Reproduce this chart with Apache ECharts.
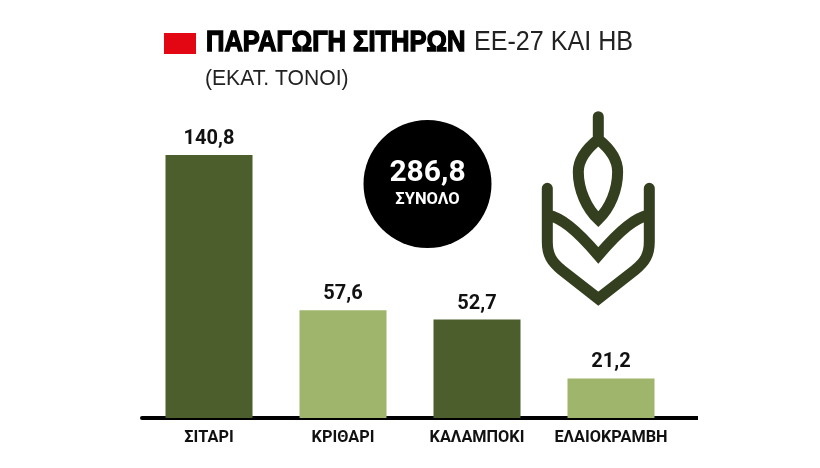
<!DOCTYPE html>
<html>
<head>
<meta charset="utf-8">
<script src="https://cdn.jsdelivr.net/npm/echarts@6/dist/echarts.min.js"></script>
<style>
html,body{margin:0;padding:0;background:#fff}
#main{width:820px;height:468px}
</style>
</head>
<body>
<div id="main"></div>
<script>
var categories = ['ΣΙΤΑΡΙ', 'ΚΡΙΘΑΡΙ', 'ΚΑΛΑΜΠΟΚΙ', 'ΕΛΑΙΟΚΡΑΜΒΗ'];
var values = [140.8, 57.6, 52.7, 21.2];
var totalLabel = '286,8';

var darkGreen = '#4b5e2c', lightGreen = '#9fb56b', iconGreen = '#333f1e';
var sans = '"Liberation Sans", sans-serif';

// wheat icon, drawn as one stroked outline
var wheatPath = 'M235 50 L235 118 ' +
	'M235 118 C195 150 175 180 175 215 C175 270 200 325 235 358 C270 325 293 270 293 215 C293 180 275 150 235 118 Z ' +
	'M82 265 L82 425 C82 465 95 485 125 510 L235 596 L345 510 C375 485 388 465 388 425 L388 265 ' +
	'M82 344 C125 355 165 385 235 466 C305 385 345 355 388 344';

var myChart = echarts.init(document.getElementById('main'));
myChart.setOption({
	backgroundColor: '#fff',
	animation: false,
	grid: {left: 142, width: 536, top: 119, height: 299},
	xAxis: {
		type: 'category',
		data: categories,
		axisLine: {lineStyle: {color: '#000', width: 4}},
		axisTick: {show: false},
		axisLabel: {
			color: '#111',
			fontFamily: 'Roboto',
			fontWeight: 'bold',
			fontSize: 16.3,
			margin: 12,
			interval: 0
		}
	},
	yAxis: {type: 'value', min: 0, max: 160, show: false},
	series: [{
		type: 'bar',
		barWidth: 87,
		data: values,
		itemStyle: {
			color: function(params) {
				return params.dataIndex % 2 == 0 ? darkGreen : lightGreen;
			}
		},
		label: {
			show: true,
			position: 'top',
			distance: 6,
			color: '#111',
			fontFamily: 'Roboto',
			fontWeight: 'bold',
			fontSize: 20,
			formatter: function(p) {
				return String(p.value).replace('.', ',');
			}
		}
	}, {
		type: 'custom',
		coordinateSystem: 'none',
		silent: true,
		data: [0],
		renderItem: function() {
			return {
				type: 'path',
				shape: {pathData: wheatPath, layout: 'cover', x: 547.3, y: 116.7, width: 102, height: 182},
				style: {fill: 'none', stroke: iconGreen, lineWidth: 11, lineCap: 'round', lineJoin: 'miter'}
			};
		}
	}],
	graphic: [
		{type: 'rect', x: 164, y: 33, shape: {width: 32, height: 21}, style: {fill: '#e30613'}},
		{type: 'text', x: 206, y: 43, scaleX: 0.88, style: {
			text: 'ΠΑΡΑΓΩΓΗ ΣΙΤΗΡΩΝ', fill: '#000', stroke: '#000', lineWidth: 1.4,
			verticalAlign: 'middle', font: 'bold 29px ' + sans
		}},
		{type: 'text', x: 474, y: 43, scaleX: 0.93, style: {
			text: 'ΕΕ-27 ΚΑΙ ΗΒ', fill: '#222',
			verticalAlign: 'middle', font: '27px ' + sans
		}},
		{type: 'text', x: 205, y: 79, scaleX: 0.96, style: {
			text: '(ΕΚΑΤ. ΤΟΝΟΙ)', fill: '#222',
			verticalAlign: 'middle', font: '22px ' + sans
		}},
		// baseline runs on past the last band
		{type: 'rect', x: 678, y: 416, shape: {width: 20, height: 4}, style: {fill: '#000'}},
		{type: 'circle', shape: {cx: 427.5, cy: 184, r: 64}, style: {fill: '#000'}},
		{type: 'text', x: 427.5, y: 173, style: {
			text: totalLabel, fill: '#fff', align: 'center', verticalAlign: 'middle',
			font: 'bold 30px Roboto, sans-serif'
		}},
		{type: 'text', x: 427.5, y: 200, style: {
			text: 'ΣΥΝΟΛΟ', fill: '#fff', align: 'center', verticalAlign: 'middle',
			font: 'bold 16.5px Roboto, sans-serif'
		}}
	]
});
</script>
</body>
</html>
